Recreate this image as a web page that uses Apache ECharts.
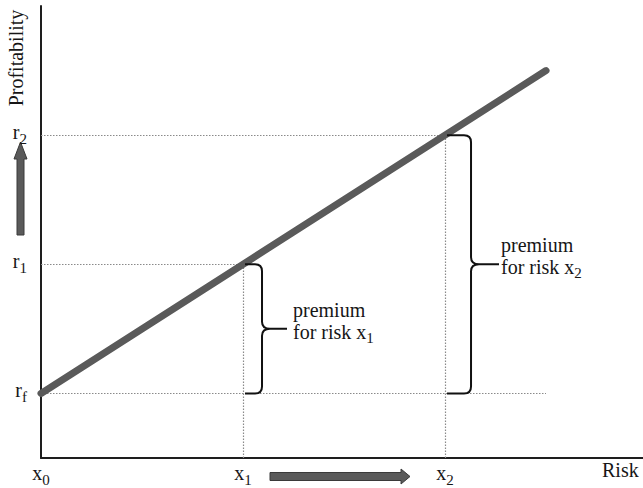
<!DOCTYPE html>
<html><head><meta charset="utf-8">
<script src="https://cdn.jsdelivr.net/npm/echarts@6/dist/echarts.min.js"></script>
<style>html,body{margin:0;padding:0;background:#fff}#c{width:643px;height:488px}</style>
</head><body><div id="c"></div>
<script>
// ---- data ----
const xTickValues = [0, 1, 2];
const xTickNames = ['x', 'x', 'x'];
const xTickSubs = ['0', '1', '2'];
const yTickValues = [0.5, 1.5, 2.5];
const yTickNames = ['r', 'r', 'r'];
const yTickSubs = ['f', '1', '2'];
const lineX = [0, 2.5];
const lineY = [0.5, 3.0];
const guideH = [[0, 2.5, 0.5], [0, 1, 1.5], [0, 2, 2.5]]; // [xStart, xEnd, y]
const guideV = [[1, 0, 1.5], [2, 0, 2.5]];                // [x, yStart, yEnd]
const braceX = [1, 2];
const braceTop = [1.5, 2.5];
const braceBottom = [0.5, 0.5];
const braceLine1 = ['premium', 'premium'];
const braceLine2 = ['for risk x', 'for risk x'];
const braceSubs = ['1', '2'];
const xAxisName = 'Risk';
const yAxisName = 'Profitability';

// ---- styles ----
const FONT = '"Liberation Serif", "DejaVu Serif", serif';
const TXT = '#161616';
const braceGeom = [{v: 17, t: 42, g: 6}, {v: 24, t: 52, g: 2}];
const richTick = {
  m: {fontFamily: FONT, fontSize: 20, color: TXT, lineHeight: 24, verticalAlign: 'middle'},
  s: {fontFamily: FONT, fontSize: 15, color: TXT, lineHeight: 15, padding: [13, 0, 0, 0], verticalAlign: 'middle'}
};

const chart = echarts.init(document.getElementById('c'), null, {renderer: 'svg'});

const option = {
  animation: false,
  backgroundColor: '#fff',
  grid: {left: 41, right: 0, top: 6, bottom: 30, outerBoundsMode: 'none', containLabel: false},
  xAxis: {
    type: 'value', min: 0, max: 2.98, interval: 1,
    axisLine: {show: true, onZero: false, lineStyle: {color: '#1e1e1e', width: 2}},
    axisTick: {show: false}, splitLine: {show: false},
    axisLabel: {
      margin: 3, showMaxLabel: false,
      formatter: function (v) {
        const i = xTickValues.indexOf(v);
        return i < 0 ? '' : '{m|' + xTickNames[i] + '}{s|' + xTickSubs[i] + '}';
      },
      rich: richTick
    }
  },
  yAxis: {
    type: 'value', min: 0, max: 3.5, interval: 0.5,
    axisLine: {show: true, onZero: false, lineStyle: {color: '#1e1e1e', width: 2}},
    axisTick: {show: false}, splitLine: {show: false},
    axisLabel: {
      margin: 14, padding: [0, 0, 6, 0],
      formatter: function (v) {
        const i = yTickValues.indexOf(v);
        return i < 0 ? '' : '{m|' + yTickNames[i] + '}{s|' + yTickSubs[i] + '}';
      },
      rich: richTick
    }
  },
  graphic: [
    {type: 'text', x: 16, y: 58, rotation: Math.PI / 2,
      style: {text: yAxisName, font: '20px ' + FONT, fill: TXT, align: 'center', verticalAlign: 'middle'}},
    {type: 'text', x: 602, y: 470,
      style: {text: xAxisName, font: '20px ' + FONT, fill: TXT, align: 'left', verticalAlign: 'middle'}},
    {type: 'polygon', shape: {points: [[17, 235], [17, 159], [14, 159], [20.5, 142], [27, 159], [24, 159], [24, 235]]},
      style: {fill: '#5a5a5a', stroke: '#3a3a3a', lineWidth: 1}},
    {type: 'polygon', shape: {points: [[270, 472.5], [401, 472.5], [401, 469], [410, 476.5], [401, 484], [401, 480.5], [270, 480.5]]},
      style: {fill: '#5a5a5a', stroke: '#3a3a3a', lineWidth: 1}}
  ],
  series: [
    {
      type: 'lines', coordinateSystem: 'cartesian2d', silent: true, z: 1,
      lineStyle: {color: '#8a8a8a', width: 1.2, type: [1.5, 1.5], opacity: 1},
      data: guideH.map(g => ({coords: [[g[0], g[2]], [g[1], g[2]]]}))
        .concat(guideV.map(g => ({coords: [[g[0], g[1]], [g[0], g[2]]]})))
    },
    {
      type: 'line', z: 3, symbol: 'none', silent: true,
      lineStyle: {color: '#5a5a5a', width: 7, cap: 'round'},
      data: lineX.map((x, i) => [x, lineY[i]])
    },
    {
      type: 'custom', z: 4, silent: true,
      data: braceX.map((x, i) => [x, braceTop[i], braceBottom[i]]),
      renderItem: function (params, api) {
        const i = params.dataIndex;
        const pT = api.coord([api.value(0), api.value(1)]);
        const pB = api.coord([api.value(0), api.value(2)]);
        const g = braceGeom[i];
        const L = pT[0] + 2, V = L + g.v, T = L + g.t;
        const yT = pT[1], yB = pB[1], yM = (yT + yB) / 2;
        const r = 7;
        const d = 'M' + L + ',' + yT + ' L' + (V - r) + ',' + yT + ' Q' + V + ',' + yT + ' ' + V + ',' + (yT + r) +
          ' L' + V + ',' + (yM - 7) + ' Q' + V + ',' + yM + ' ' + (V + 8) + ',' + yM + ' L' + T + ',' + yM +
          ' M' + (V + 8) + ',' + yM + ' Q' + V + ',' + yM + ' ' + V + ',' + (yM + 7) +
          ' L' + V + ',' + (yB - r) + ' Q' + V + ',' + yB + ' ' + (V - r) + ',' + yB + ' L' + L + ',' + yB;
        return {
          type: 'group',
          children: [
            {type: 'path', shape: {pathData: d}, style: {stroke: '#111', lineWidth: 2, fill: null}},
            {type: 'text', x: T + g.g, y: yM - 8,
              style: {
                text: '{m|' + braceLine1[i] + '}\n{m|' + braceLine2[i] + '}{s|' + braceSubs[i] + '}',
                align: 'left', verticalAlign: 'middle',
                rich: {
                  m: {fontFamily: FONT, fontSize: 20, fill: TXT, lineHeight: 22, verticalAlign: 'middle'},
                  s: {fontFamily: FONT, fontSize: 15, fill: TXT, lineHeight: 15, padding: [12, 0, 0, 0], verticalAlign: 'middle'}
                }
              }}
          ]
        };
      }
    }
  ]
};
chart.setOption(option);
</script>
</body></html>
